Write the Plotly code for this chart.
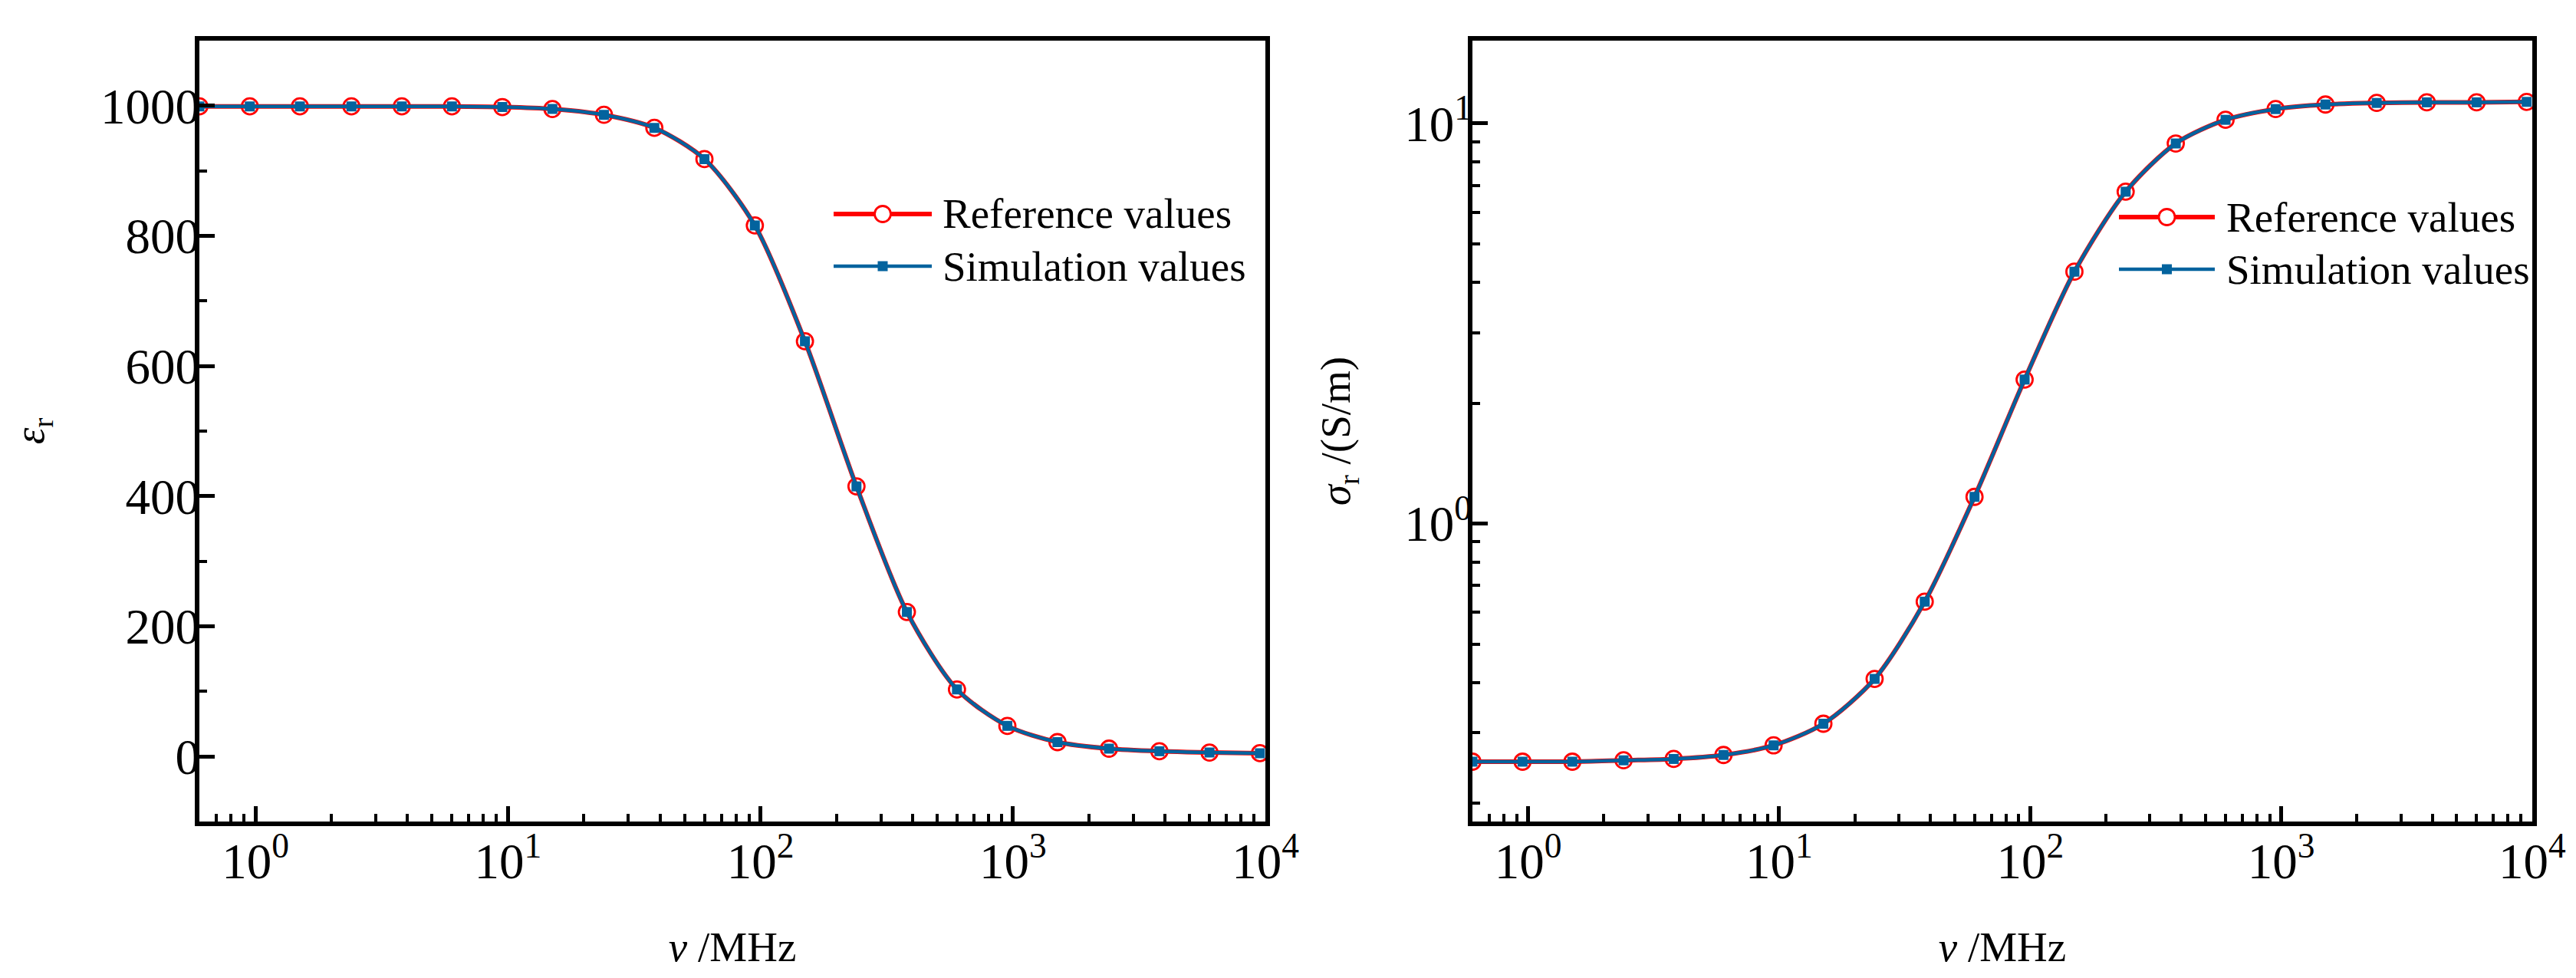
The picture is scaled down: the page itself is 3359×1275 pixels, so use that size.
import numpy as np
import plotly.graph_objects as go
from plotly.subplots import make_subplots

# Frequency points (MHz)
freq = [0.6, 0.95, 1.5, 2.4, 3.8, 6, 9.5, 15, 24, 38, 60, 95, 150, 240,
        380, 600, 950, 1500, 2400, 3800, 6000, 9500]

# Relative permittivity
eps_ref = [999, 999, 999, 999, 999, 999, 998, 995, 986, 966, 918, 816,
           638, 415, 222, 103, 47, 22, 12, 8, 6, 5]
eps_sim = [999, 999, 999, 999, 999, 999, 998, 995, 986, 966, 918, 816,
           638, 415, 222, 103, 47, 22, 12, 8, 6, 5]

# Conductivity (S/m)
sig_ref = [0.254, 0.254, 0.254, 0.256, 0.258, 0.264, 0.279, 0.316, 0.409,
           0.638, 1.166, 2.29, 4.26, 6.75, 8.91, 10.21, 10.86, 11.15, 11.25,
           11.29, 11.29, 11.32]
sig_sim = [0.254, 0.254, 0.254, 0.256, 0.258, 0.264, 0.279, 0.316, 0.409,
           0.638, 1.166, 2.29, 4.26, 6.75, 8.91, 10.21, 10.86, 11.15, 11.25,
           11.29, 11.29, 11.32]

series_names = ["Reference values", "Simulation values"]
x_tickvals = [1, 10, 100, 1000, 10000]
x_ticktext = ["10<sup>0</sup>", "10<sup>1</sup>", "10<sup>2</sup>",
              "10<sup>3</sup>", "10<sup>4</sup>"]
sig_tickvals = [1, 10]
sig_ticktext = ["10<sup>0</sup>", "10<sup>1</sup>"]

RED = "#FF0000"
BLUE = "#03639E"
FONT = "Liberation Serif"
FS = 55      # titles / legend
TFS = 65     # tick labels

W, H = 3359, 1275
ML, MR, MT, MB = 252, 65, 45, 212

fig = make_subplots(rows=1, cols=2, horizontal_spacing=0.0888)
fig.update_layout(xaxis=dict(domain=[0, 0.457]),
                  xaxis2=dict(domain=[0.5457, 1.0]))

for col, (yr, ys) in enumerate([(eps_ref, eps_sim), (sig_ref, sig_sim)], 1):
    fig.add_trace(go.Scatter(x=freq, y=yr, mode="lines+markers",
                             line=dict(color=RED, width=6, shape="spline",
                                       smoothing=0.8),
                             marker=dict(symbol="circle-open", size=21,
                                         color=RED, line=dict(width=2.8)),
                             showlegend=False), row=1, col=col)
    fig.add_trace(go.Scatter(x=freq, y=ys, mode="lines+markers",
                             line=dict(color=BLUE, width=4.5, shape="spline",
                                       smoothing=0.8),
                             marker=dict(symbol="square", size=13, color=BLUE),
                             showlegend=False), row=1, col=col)

axis_common = dict(showline=True, linecolor="black", linewidth=6, mirror=True,
                   ticks="inside", ticklen=20, tickwidth=5, tickcolor="black",
                   showgrid=False, zeroline=False,
                   tickfont=dict(family=FONT, size=TFS, color="black"),
                   title_font=dict(family=FONT, size=FS, color="black"))

minor_log = [m * 10.0 ** k for k in range(-1, 4) for m in range(2, 10)]

for col in (1, 2):
    fig.update_xaxes(type="log", range=[np.log10(0.6), 4],
                     tickmode="array", tickvals=x_tickvals,
                     ticktext=x_ticktext, ticklabelstandoff=-10,
                     minor=dict(ticks="inside", ticklen=10, tickwidth=4,
                                tickcolor="black", tickmode="array",
                                tickvals=minor_log, showgrid=False),
                     title=dict(text="<i>v</i> /MHz", standoff=58),
                     row=1, col=col, **axis_common)

fig.update_yaxes(range=[-100, 1100], tickmode="linear", tick0=0, dtick=200,
                 ticklabelstandoff=-20,
                 minor=dict(ticks="inside", ticklen=10, tickwidth=4,
                            tickcolor="black", dtick=100, showgrid=False),
                 title=dict(text="<i>ε</i><sub>r</sub>", standoff=66),
                 row=1, col=1, **axis_common)

fig.update_yaxes(type="log", range=[np.log10(0.18), np.log10(16.1)],
                 tickmode="array", tickvals=sig_tickvals,
                 ticktext=sig_ticktext, ticklabelstandoff=-18,
                 minor=dict(ticks="inside", ticklen=10, tickwidth=4,
                            tickcolor="black", tickmode="array",
                            tickvals=[m * 10.0 ** k for k in range(-1, 2)
                                      for m in range(2, 10)],
                            showgrid=False),
                 title=dict(text="<i>σ</i><sub>r</sub> /(S/m)", standoff=55),
                 row=1, col=2, **axis_common)


# Hand-built legends (long sample lines like the original)
def px_x(p):
    return (p - ML) / (W - ML - MR)


def px_y(p):
    return (H - MB - p) / (H - MT - MB)


shapes, annotations = [], []
for x0, x1, xt, rows in [(1079, 1207, 1219, (271, 339)),
                         (2755, 2880, 2893, (275, 343))]:
    xc = px_x((x0 + x1) / 2)
    for i, (name, py) in enumerate(zip(series_names, rows)):
        yc = px_y(py)
        color = RED if i == 0 else BLUE
        shapes.append(dict(type="line", xref="paper", yref="paper",
                           x0=px_x(x0), x1=px_x(x1), y0=yc, y1=yc,
                           line=dict(color=color, width=6 if i == 0 else 4.5)))
        if i == 0:
            shapes.append(dict(type="circle", xref="paper", yref="paper",
                               xsizemode="pixel", ysizemode="pixel",
                               xanchor=xc, yanchor=yc,
                               x0=-10.5, x1=10.5, y0=-10.5, y1=10.5,
                               fillcolor="white",
                               line=dict(color=RED, width=2.8)))
        else:
            shapes.append(dict(type="rect", xref="paper", yref="paper",
                               xsizemode="pixel", ysizemode="pixel",
                               xanchor=xc, yanchor=yc,
                               x0=-6.5, x1=6.5, y0=-6.5, y1=6.5,
                               fillcolor=BLUE, line=dict(width=0)))
        annotations.append(dict(text=name, xref="paper", yref="paper",
                                x=px_x(xt), y=yc, xanchor="left",
                                yanchor="middle", showarrow=False,
                                font=dict(family=FONT, size=FS,
                                          color="black")))

fig.update_layout(width=W, height=H, margin=dict(l=ML, r=MR, t=MT, b=MB),
                  plot_bgcolor="white", paper_bgcolor="white",
                  font=dict(family=FONT, size=FS, color="black"),
                  shapes=shapes, annotations=annotations, showlegend=False)

fig.write_html("out.html")
